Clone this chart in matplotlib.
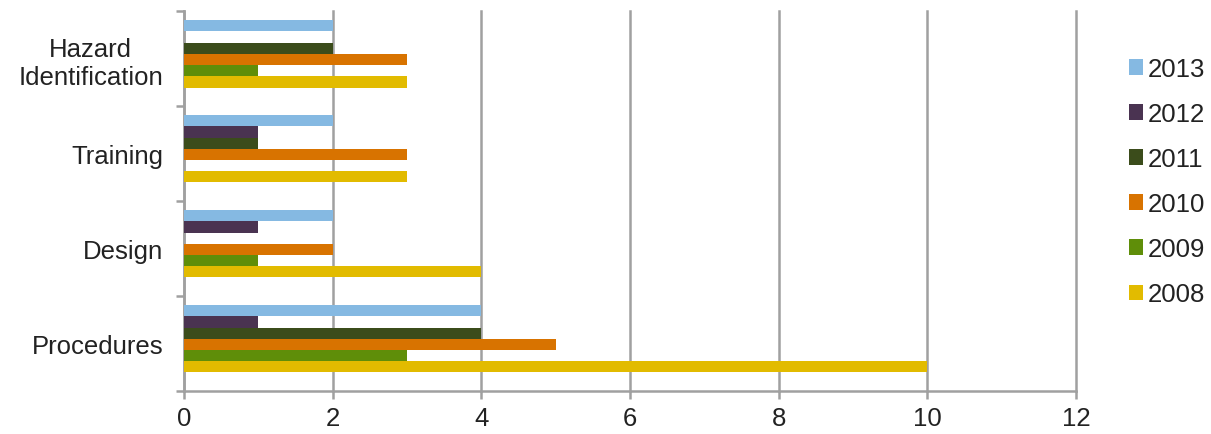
import numpy as np
import matplotlib
matplotlib.use("Agg")
import matplotlib.pyplot as plt
from matplotlib.patches import Patch

plt.rcParams["font.family"] = ["Liberation Sans", "DejaVu Sans"]

# ── data ──────────────────────────────────────────────────────────────────────
categories = ["Procedures", "Design", "Training", "Hazard\nIdentification"]
years = ["2008", "2009", "2010", "2011", "2012", "2013"]
v2008 = [10, 4, 3, 3]
v2009 = [3, 1, 0, 1]
v2010 = [5, 2, 3, 3]
v2011 = [4, 0, 1, 2]
v2012 = [1, 1, 1, 0]
v2013 = [4, 2, 2, 2]
series = [v2008, v2009, v2010, v2011, v2012, v2013]

colors = ["#E2BB00", "#5F8E09", "#D87300", "#3B4C1B", "#4A3351", "#85B9E2"]
GRID = "#A0A0A0"
FS = 18.5

fig = plt.figure(figsize=(12.11, 4.35), dpi=100)
ax = fig.add_axes([0.152, 0.099, 0.7365, 0.873])

bar_h = 0.118
shift = 0.05
base = np.arange(len(categories))
for k, (vals, col) in enumerate(zip(series, colors)):
    y = base - 0.5 + shift + (1 - 6 * bar_h) / 2 + bar_h * (k + 0.5)
    ax.barh(y, vals, height=bar_h, color=col, edgecolor="none", zorder=3)

ax.set_xlim(0, 12)
ax.set_ylim(-0.5, len(categories) - 0.5)
ax.set_xticks(np.arange(0, 13, 2))
ax.xaxis.grid(True, color=GRID, linewidth=1.8, zorder=0)
for gl in ax.get_xgridlines():
    gl.set_clip_on(False)
ax.set_yticks(base)
ax.set_yticklabels(categories, fontsize=FS, color="#222222", multialignment="center")
ax.set_yticks(np.arange(-0.5, len(categories)), minor=True)
ax.tick_params(axis="y", which="major", length=0, pad=15)
ax.tick_params(axis="y", which="minor", length=6, width=1.8, color=GRID)
ax.tick_params(axis="x", length=6, width=1.8, color=GRID, labelsize=FS,
               labelcolor="#222222", pad=5)
for s in ["top", "right"]:
    ax.spines[s].set_visible(False)
for s in ["left", "bottom"]:
    ax.spines[s].set_color(GRID)
    ax.spines[s].set_linewidth(1.8)

handles = [Patch(facecolor=c, edgecolor="none", label=y)
           for y, c in zip(years, colors)][::-1]
fig.legend(handles=handles, loc="center left", bbox_to_anchor=(0.932, 0.58),
           frameon=False, fontsize=FS, handlelength=0.55, handleheight=0.55,
           handletextpad=0.2, labelspacing=0.82, labelcolor="#222222",
           borderpad=0, borderaxespad=0)

fig.savefig("out.png", dpi=100, facecolor="white")
plt.close(fig)
